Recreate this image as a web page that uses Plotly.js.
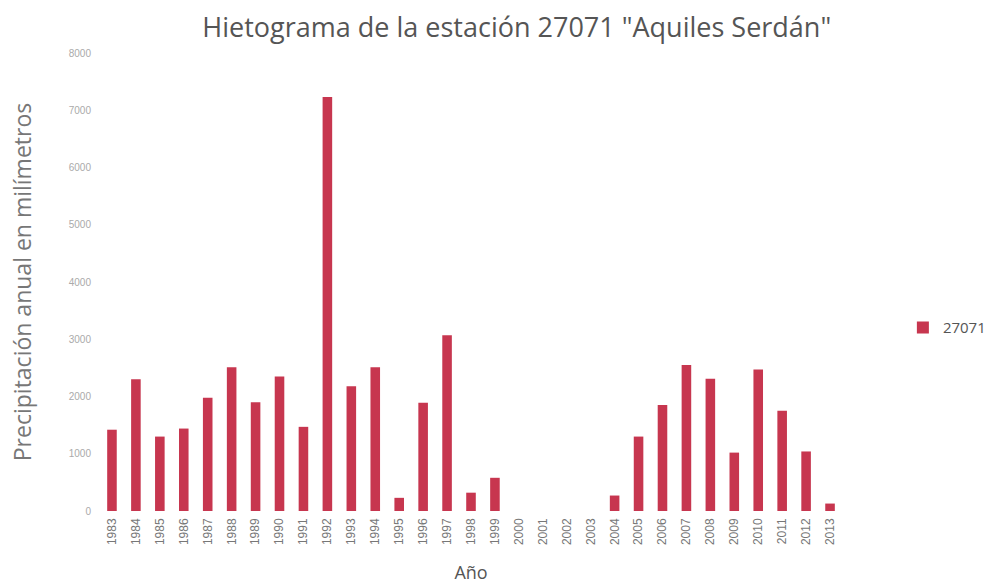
<!DOCTYPE html>
<html>
<head>
<meta charset="utf-8">
<script src="https://cdn.plot.ly/plotly-3.0.1.min.js"></script>
<style>html,body{margin:0;padding:0;background:#fff;}#chart{width:990px;height:584px;}</style>
</head>
<body>
<div id="chart"></div>
<script>
const years = ["1983","1984","1985","1986","1987","1988","1989","1990","1991","1992","1993","1994","1995","1996","1997","1998","1999","2000","2001","2002","2003","2004","2005","2006","2007","2008","2009","2010","2011","2012","2013"];
const precip = [1420,2300,1300,1440,1980,2510,1900,2350,1470,7230,2180,2510,230,1890,3070,320,580,null,null,null,null,270,1300,1850,2550,2310,1020,2470,1750,1040,130];
const seriesName = "27071";
const yTicks = [0,1000,2000,3000,4000,5000,6000,7000,8000];

const trace = {
  type: "bar",
  x: years,
  y: precip,
  name: seriesName,
  marker: {color: "#c7364f"},
  showlegend: true
};

const layout = {
  width: 990, height: 584,
  paper_bgcolor: "#fff", plot_bgcolor: "#fff",
  margin: {l: 100, r: 148, t: 53, b: 73, autoexpand: false},
  title: {text: 'Hietograma de la estación 27071 "Aquiles Serdán"', font: {family: "Open Sans, sans-serif", size: 27, color: "#555"}, x: 0.522, xanchor: "center", y: 0.952, yanchor: "middle"},
  bargap: 0.6,
  showlegend: true,
  legend: {xref: "container", x: 0.912, y: 0.40, xanchor: "left", yanchor: "middle", font: {family: "Open Sans, sans-serif", size: 15, color: "#555"}, itemwidth: 30},
  xaxis: {
    type: "category",
    tickangle: -90,
    tickfont: {family: "Liberation Sans, sans-serif", size: 12, color: "#777"},
    showgrid: false, zeroline: false, showline: false, ticks: "",
    ticklabelstandoff: 4,
    automargin: false,
    title: {text: "Año", font: {family: "Open Sans, sans-serif", size: 18, color: "#555"}, standoff: 22}
  },
  yaxis: {
    range: [0, 8000],
    tickvals: yTicks,
    tickfont: {family: "Liberation Sans, sans-serif", size: 10, color: "#aaa"},
    showgrid: false, zeroline: false, showline: false, ticks: "",
    ticklabelstandoff: 8,
    automargin: false,
    title: {text: "Precipitación anual en milímetros", font: {family: "Open Sans, sans-serif", size: 23, color: "#777"}, standoff: 30}
  }
};

Plotly.newPlot("chart", [trace], layout, {displayModeBar: false, staticPlot: true});
</script>
</body>
</html>
